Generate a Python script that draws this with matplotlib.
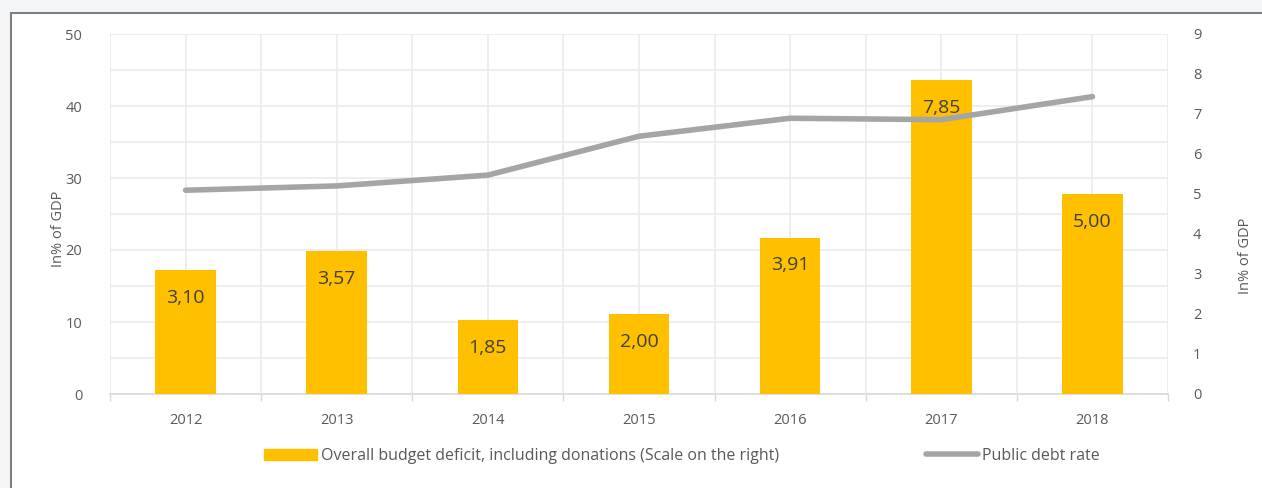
import matplotlib.pyplot as plt
import matplotlib.patches as mpatches
from matplotlib.lines import Line2D
import numpy as np

years = ['2012', '2013', '2014', '2015', '2016', '2017', '2018']
deficit = [3.10, 3.57, 1.85, 2.00, 3.91, 7.85, 5.00]
debt = [28.3, 28.9, 30.4, 35.8, 38.3, 38.1, 41.3]

plt.rcParams['font.family'] = ['Open Sans', 'DejaVu Sans']

W, H = 1262, 488
fig = plt.figure(figsize=(W / 100, H / 100), dpi=100)
fig.patch.set_facecolor('#f4f5f7')

# frame of the chart box (goes past the right and bottom edges)
frame = mpatches.Rectangle((11 / W, -0.05), 1.1, 1 - 13 / H + 0.05,
                           transform=fig.transFigure, facecolor='white',
                           edgecolor='#7f7f7f', linewidth=1.5, zorder=-10)
fig.patches.append(frame)

pos = [110 / W, 1 - 394 / H, (1168 - 110) / W, (394 - 34) / H]
ax = fig.add_axes(pos)
ax.set_facecolor('none')
ax2 = ax.twinx()
ax3 = ax.twinx()

x = np.arange(len(years))
tick_col = '#595959'
grid_col = '#ebebeb'
fs = 10.5

# left axis: grid and ticks
ax.set_xlim(-0.5, len(years) - 0.5)
ax.set_ylim(0, 50)
ax.set_yticks(np.arange(0, 51, 10))
ax.set_yticks(np.arange(0, 51, 5), minor=True)
ax.set_xticks(x)
ax.set_xticks(np.arange(-0.5, len(years), 1), minor=True)
ax.set_xticklabels(years)
ax.grid(True, which='both', color=grid_col, linewidth=1.2)
ax.set_axisbelow(True)
ax.tick_params(axis='y', which='both', length=0, labelsize=fs, labelcolor=tick_col, pad=20)
ax.tick_params(axis='x', which='major', length=0, labelsize=fs, labelcolor=tick_col, pad=14)
ax.tick_params(axis='x', which='minor', length=5, color='#d9d9d9', width=1)
for s in ['top', 'right', 'left']:
    ax.spines[s].set_visible(False)
ax.spines['bottom'].set_color('#d9d9d9')
ax.spines['bottom'].set_linewidth(1.2)
ax.set_ylabel('In% of GDP', fontsize=fs, color=tick_col)
ax.yaxis.set_label_coords(-(110 - 66) / (1168 - 110), 0.46)

# right axis: bars
ax2.bar(x, deficit, width=0.4, color='#ffc000', zorder=2)
ax2.set_ylim(0, 9)
ax2.set_yticks(np.arange(0, 10, 1))
ax2.tick_params(axis='y', length=0, labelsize=fs, labelcolor=tick_col, pad=18)
for s in ax2.spines.values():
    s.set_visible(False)
ax2.set_ylabel('In% of GDP', fontsize=fs, color=tick_col)
ax2.yaxis.set_label_coords(1 + (1238 - 1168) / (1168 - 110), 0.385)
for xi, v in zip(x, deficit):
    ax2.annotate('{:.2f}'.format(v).replace('.', ','), (xi, v), xytext=(0, -20),
                 textcoords='offset points', ha='center', va='center',
                 fontsize=14, color='#404040', zorder=4)

# line on left scale, on top
ax3.plot(x, debt, color='#a5a5a5', linewidth=4, solid_capstyle='round')
ax3.set_ylim(0, 50)
ax3.set_yticks([])
for s in ax3.spines.values():
    s.set_visible(False)

handles = [mpatches.Patch(color='#ffc000'),
           Line2D([], [], color='#a5a5a5', linewidth=4, solid_capstyle='round')]
labels = ['Overall budget deficit, including donations (Scale on the right)',
          'Public debt rate']
fig.legend(handles, labels, loc='center', bbox_to_anchor=(682 / W, 1 - 456 / H),
           ncol=2, frameon=False, fontsize=11.5, labelcolor=tick_col,
           handlelength=3.3, handleheight=0.7, handletextpad=0.25,
           columnspacing=9.2)

fig.savefig('out.png', dpi=100, facecolor=fig.get_facecolor())
